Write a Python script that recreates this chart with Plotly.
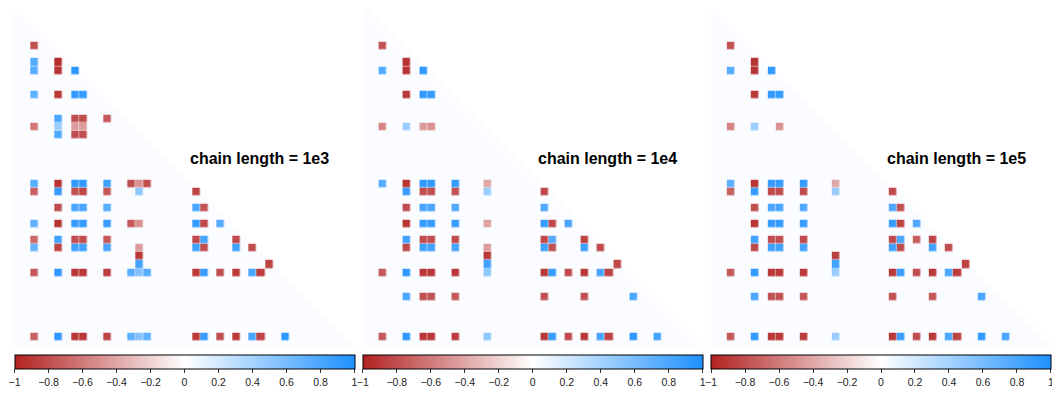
import numpy as np
import plotly.graph_objects as go

N = 42  # parameters per correlation matrix (lower triangle incl. diagonal)
panel_titles = ["chain length = 1e3", "chain length = 1e4", "chain length = 1e5"]
tick_values = [-1, -0.8, -0.6, -0.4, -0.2, 0, 0.2, 0.4, 0.6, 0.8, 1]

# significant correlations: (row, column, value)
cells_1e3 = [
    (4, 2, -0.8),
    (6, 2, 0.75), (7, 2, 0.75), (6, 5, -0.95), (7, 5, -0.92), (7, 7, 0.95),
    (10, 2, 0.7), (10, 5, -0.9), (10, 7, 0.9), (10, 8, 0.9),
    (13, 5, 0.8), (14, 5, 0.45), (15, 5, 0.78),
    (13, 7, -0.8), (13, 8, -0.8), (14, 7, -0.45), (14, 8, -0.45), (15, 7, -0.8), (15, 8, -0.8),
    (14, 2, -0.6), (13, 11, -0.75),
    (21, 2, 0.75), (21, 5, -0.92), (21, 7, 0.92), (21, 8, 0.92), (21, 11, 0.85),
    (21, 14, -0.8), (21, 15, -0.5), (21, 16, -0.8),
    (22, 2, -0.72), (22, 5, 0.9), (22, 7, -0.8), (22, 8, -0.85), (22, 11, -0.75),
    (22, 15, 0.5), (22, 22, -0.85),
    (24, 5, -0.8), (24, 7, 0.8), (24, 8, 0.8), (24, 11, 0.75), (24, 22, 0.8), (24, 23, -0.78),
    (26, 2, 0.7), (26, 5, -0.92), (26, 7, 0.9), (26, 8, 0.9), (26, 11, 0.88), (26, 14, -0.75),
    (26, 15, -0.5), (26, 22, 0.9), (26, 23, -0.82), (26, 25, 0.75),
    (28, 2, -0.68), (28, 5, 0.85), (28, 7, -0.8), (28, 8, -0.8), (28, 11, -0.75),
    (28, 22, -0.82), (28, 23, 0.8), (28, 27, -0.82),
    (29, 2, 0.68), (29, 5, -0.85), (29, 7, 0.85), (29, 8, 0.85), (29, 11, 0.8), (29, 15, -0.45),
    (29, 22, 0.85), (29, 23, -0.8), (29, 27, 0.85), (29, 29, -0.8),
    (30, 15, -0.9),
    (31, 15, 0.85), (31, 31, -0.85),
    (32, 2, -0.75), (32, 5, 0.92), (32, 7, -0.9), (32, 8, -0.9), (32, 11, -0.88), (32, 14, 0.75),
    (32, 15, 0.55), (32, 16, 0.75), (32, 22, -0.9), (32, 23, 0.88), (32, 25, -0.8),
    (32, 27, -0.9), (32, 29, 0.8), (32, 30, -0.88),
    (40, 2, -0.72), (40, 5, 0.92), (40, 7, -0.9), (40, 8, -0.9), (40, 11, -0.85), (40, 14, 0.72),
    (40, 15, 0.55), (40, 16, 0.72), (40, 22, -0.9), (40, 23, 0.88), (40, 25, -0.8),
    (40, 27, -0.9), (40, 29, 0.8), (40, 30, -0.85), (40, 33, 0.92),
]

cells_1e4 = [
    (4, 2, -0.78),
    (6, 5, -0.92), (7, 5, -0.92), (7, 2, 0.75), (7, 7, 0.92),
    (10, 5, -0.9), (10, 7, 0.9), (10, 8, 0.9),
    (14, 2, -0.55), (14, 5, 0.45), (14, 7, -0.45), (14, 8, -0.5),
    (21, 2, 0.75), (21, 5, -0.92), (21, 7, 0.92), (21, 8, 0.92), (21, 11, 0.9), (21, 15, -0.4),
    (22, 5, 0.88), (22, 7, -0.8), (22, 8, -0.8), (22, 11, -0.78), (22, 15, 0.45), (22, 22, -0.82),
    (24, 5, -0.8), (24, 7, 0.8), (24, 8, 0.8), (24, 11, 0.78), (24, 22, 0.78),
    (26, 5, -0.92), (26, 7, 0.9), (26, 8, 0.9), (26, 11, 0.88), (26, 15, -0.42),
    (26, 22, 0.9), (26, 23, -0.82), (26, 25, 0.8),
    (28, 5, 0.85), (28, 7, -0.8), (28, 8, -0.8), (28, 11, -0.8), (28, 22, -0.82),
    (28, 23, 0.75), (28, 27, -0.85),
    (29, 5, -0.82), (29, 7, 0.85), (29, 8, 0.85), (29, 11, 0.82), (29, 15, -0.45),
    (29, 22, 0.85), (29, 23, -0.78), (29, 27, 0.85), (29, 29, -0.8),
    (30, 15, -0.9),
    (31, 15, 0.85), (31, 31, -0.82),
    (32, 2, -0.75), (32, 5, 0.92), (32, 7, -0.9), (32, 8, -0.9), (32, 11, -0.9), (32, 15, 0.5),
    (32, 22, -0.9), (32, 23, 0.88), (32, 25, -0.8), (32, 27, -0.9), (32, 29, 0.8), (32, 30, -0.85),
    (35, 5, 0.8), (35, 7, -0.78), (35, 8, -0.78), (35, 11, -0.75), (35, 22, -0.78),
    (35, 27, -0.78), (35, 33, 0.8),
    (40, 2, -0.75), (40, 5, 0.92), (40, 7, -0.9), (40, 8, -0.9), (40, 11, -0.88), (40, 15, 0.5),
    (40, 22, -0.9), (40, 23, 0.88), (40, 25, -0.8), (40, 27, -0.9), (40, 29, 0.8),
    (40, 30, -0.85), (40, 33, 0.92), (40, 36, 0.82),
]

cells_1e5 = [
    (4, 2, -0.78),
    (6, 5, -0.92), (7, 5, -0.92), (7, 2, 0.75), (7, 7, 0.92),
    (10, 5, -0.9), (10, 7, 0.9), (10, 8, 0.9),
    (14, 2, -0.55), (14, 5, 0.45), (14, 8, -0.5),
    (21, 2, 0.72), (21, 5, -0.92), (21, 7, 0.9), (21, 8, 0.9), (21, 11, 0.9), (21, 15, -0.4),
    (22, 2, -0.72), (22, 5, 0.9), (22, 7, -0.82), (22, 8, -0.82), (22, 11, -0.8),
    (22, 15, 0.45), (22, 22, -0.82),
    (24, 5, -0.8), (24, 7, 0.8), (24, 8, 0.8), (24, 11, 0.78), (24, 22, 0.78), (24, 23, -0.78),
    (26, 5, -0.92), (26, 7, 0.9), (26, 8, 0.9), (26, 11, 0.88), (26, 22, 0.9),
    (26, 23, -0.85), (26, 25, 0.78),
    (28, 5, 0.85), (28, 7, -0.8), (28, 8, -0.8), (28, 11, -0.82), (28, 22, -0.82),
    (28, 23, 0.8), (28, 25, -0.72), (28, 27, -0.85),
    (29, 5, -0.82), (29, 7, 0.85), (29, 8, 0.85), (29, 11, 0.82), (29, 22, 0.85),
    (29, 23, -0.8), (29, 27, 0.85), (29, 29, -0.8),
    (30, 15, -0.88),
    (31, 15, 0.85), (31, 31, -0.85),
    (32, 2, -0.75), (32, 5, 0.92), (32, 7, -0.9), (32, 8, -0.9), (32, 11, -0.9), (32, 15, 0.45),
    (32, 22, -0.9), (32, 23, 0.88), (32, 25, -0.8), (32, 27, -0.9), (32, 29, 0.8), (32, 30, -0.88),
    (35, 5, 0.8), (35, 7, -0.78), (35, 8, -0.78), (35, 11, -0.75), (35, 22, -0.78),
    (35, 27, -0.75), (35, 33, 0.8),
    (40, 2, -0.75), (40, 5, 0.92), (40, 7, -0.9), (40, 8, -0.9), (40, 11, -0.88), (40, 15, 0.45),
    (40, 22, -0.9), (40, 23, 0.88), (40, 25, -0.8), (40, 27, -0.9), (40, 29, 0.8),
    (40, 30, -0.85), (40, 33, 0.92), (40, 36, 0.8),
]

panels = [cells_1e3, cells_1e4, cells_1e5]

W, H = 1052, 396
corr_scale = [[0.0, "#B22222"], [0.5, "#FFFFFF"], [1.0, "#1E90FF"]]
c_lim = 1.0002  # tiny headroom so the +1 end tick is kept on the bar

# lower-triangle mask drawn as a faint backdrop
tri = np.full((N, N), np.nan)
for i in range(N):
    tri[i, : i + 1] = 1.0

fig = go.Figure()
layout = dict(
    width=W, height=H,
    margin=dict(l=0, r=0, t=0, b=0),
    paper_bgcolor="white", plot_bgcolor="white",
    showlegend=False,
    font=dict(family="Liberation Sans, Arial, sans-serif", color="#000"),
)

panel_step = 348.25
grid_left, grid_right = 14.3, 353.7
grid_top, grid_bottom = 9.7, 349.0
annotations = []

for k, cells in enumerate(panels):
    sfx = "" if k == 0 else str(k + 1)
    xa, ya = "x" + sfx, "y" + sfx
    ca = "coloraxis" + sfx

    z = np.full((N, N), np.nan)
    for i, j, v in cells:
        z[i, j] = v

    fig.add_trace(go.Heatmap(
        z=tri, xaxis=xa, yaxis=ya, showscale=False, hoverinfo="skip",
        colorscale=[[0, "#FAFCFF"], [1, "#FAFCFF"]], zmin=0, zmax=1,
    ))
    fig.add_trace(go.Heatmap(
        z=z, xaxis=xa, yaxis=ya, coloraxis=ca, xgap=0.5, ygap=0.5,
    ))

    off = panel_step * k
    layout["xaxis" + sfx] = dict(
        domain=[(grid_left + off) / W, (grid_right + off) / W],
        range=[-0.5, N - 0.5], visible=False, anchor=ya,
    )
    layout["yaxis" + sfx] = dict(
        domain=[1 - grid_bottom / H, 1 - grid_top / H],
        range=[N - 0.5, -0.5], visible=False, anchor=xa,
    )
    layout[ca] = dict(
        cmin=-c_lim, cmax=c_lim, colorscale=corr_scale,
        colorbar=dict(
            orientation="h",
            x=(14.5 + off) / W, xanchor="left", xpad=0,
            y=1 - 355 / H, yanchor="top", ypad=0,
            len=340, lenmode="pixels",
            thickness=14, thicknessmode="pixels",
            outlinewidth=1, outlinecolor="#000",
            ticks="outside", ticklen=4, tickwidth=1, tickcolor="#333",
            tickmode="array", tickvals=tick_values,
            ticklabeloverflow="allow",
            tickfont=dict(size=10.5, color="#222"),
        ),
    )
    annotations.append(dict(
        text="<b>" + panel_titles[k] + "</b>",
        x=(331 + off) / W, xref="paper", xanchor="right",
        y=1 - 158 / H, yref="paper", yanchor="middle",
        showarrow=False, font=dict(size=16, color="#000"),
    ))

layout["annotations"] = annotations
fig.update_layout(**layout)
fig.write_html("out.html")
